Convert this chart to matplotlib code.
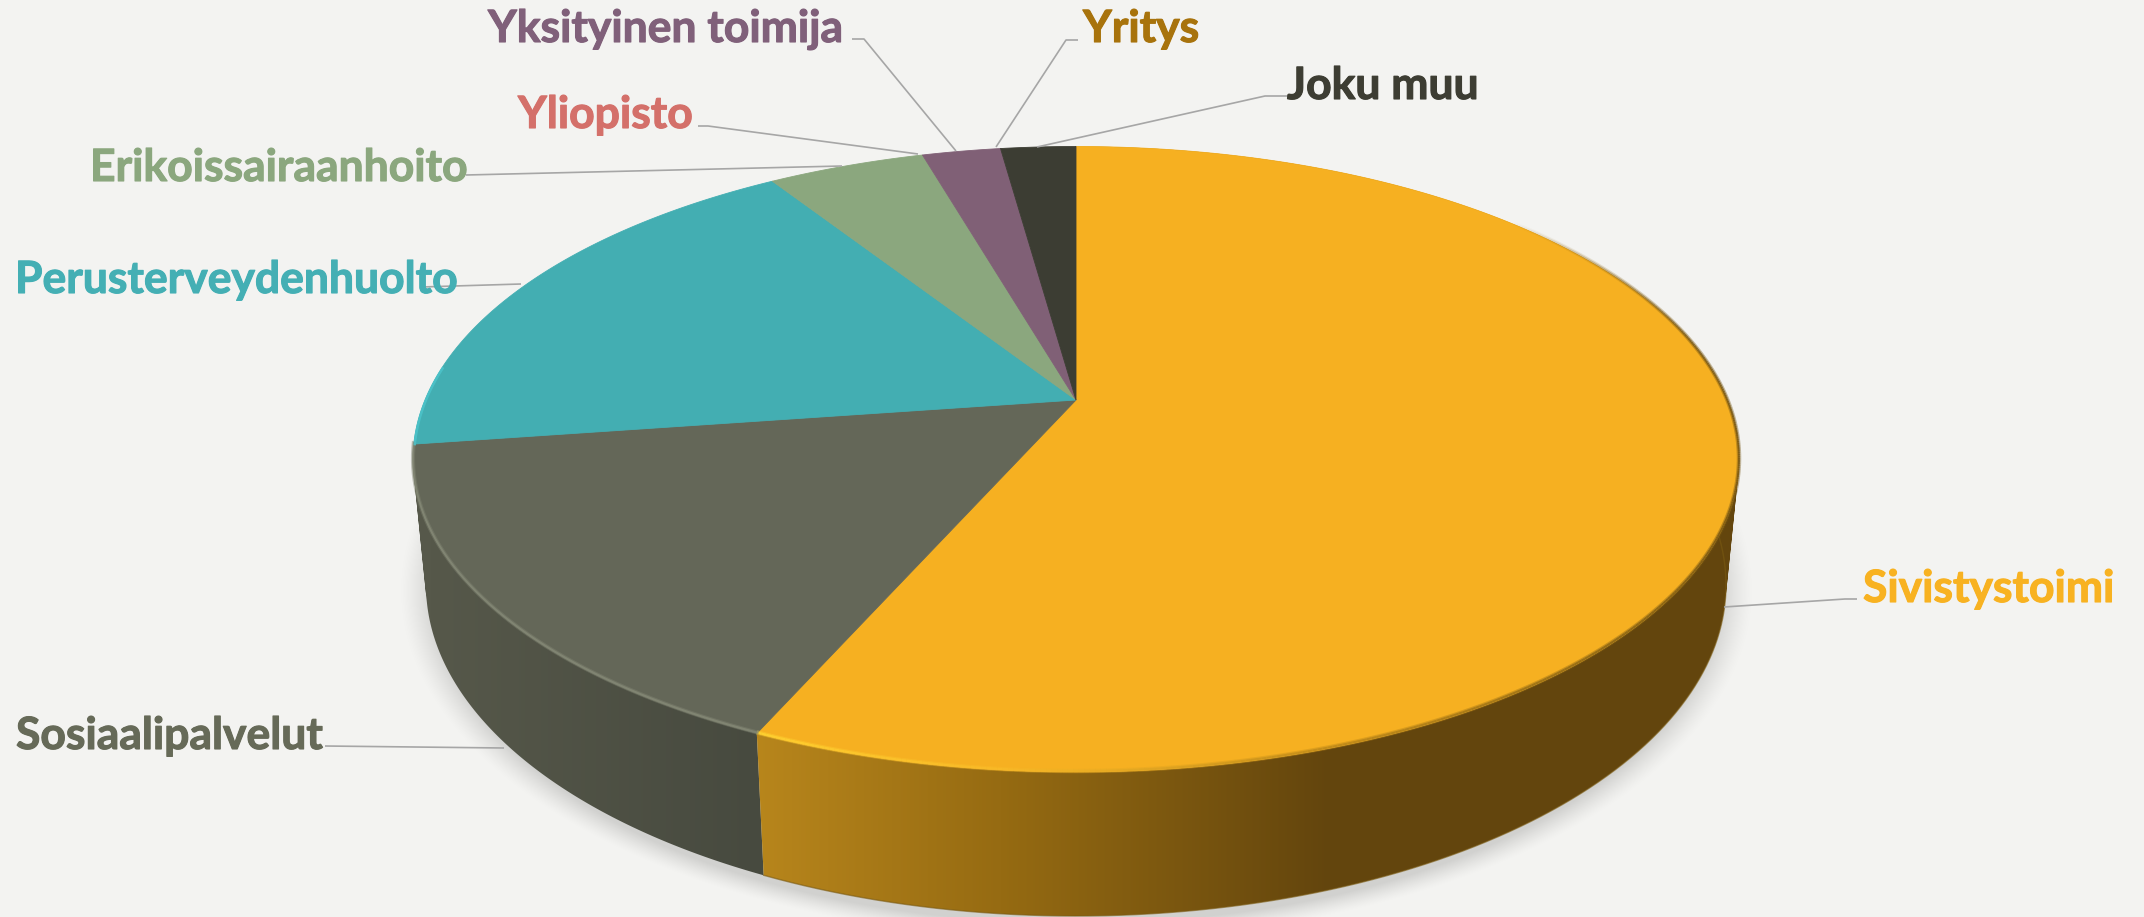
import numpy as np
import matplotlib
matplotlib.use("Agg")
import matplotlib.pyplot as plt
import matplotlib.patheffects as pe
from matplotlib.collections import LineCollection
from matplotlib.colors import to_rgb
from matplotlib.patches import PathPatch
from matplotlib.path import Path

# Data, clockwise from 12 o'clock
categories = ["Sivistystoimi", "Sosiaalipalvelut", "Perusterveydenhuolto",
              "Erikoissairaanhoito", "Yliopisto", "Yksityinen toimija",
              "Yritys", "Joku muu"]
values = [56.7, 16.1, 18.2, 4.6, 0.0, 2.3, 0.0, 2.2]
colors = ["#f6b021", "#646758", "#43aeb2", "#8ba77e",
          "#d4706a", "#806076", "#a8730c", "#3c3d33"]
label_colors = ["#f8b221", "#666a58", "#44afb4", "#8ba77e",
                "#d4706a", "#80607a", "#a8730c", "#3d3d33"]

# Where labels sit (left, baseline) and their leader lines, in pixels
label_x = [1863, 16, 15, 90, 518, 488, 1083, 1287]
label_y = [602, 749, 293, 181, 128, 42, 42, 99]
leaders = [
    [(1724, 607), (1845, 599), (1857, 599)],
    [(325, 746), (504, 748)],
    [(421, 287), (521, 284)],
    [(466, 175), (842, 166)],
    [(698, 126), (708, 126), (918, 154)],
    [(852, 39), (864, 39), (956, 151)],
    [(1078, 40), (1066, 40), (996, 147)],
    [(1287, 96), (1265, 96), (1037, 147)],
]

BG = "#f3f3f1"
W, H = 2144, 917

fig = plt.figure(figsize=(W / 100, H / 100), dpi=100, facecolor=BG)
ax = fig.add_axes([0, 0, 1, 1])
ax.set_xlim(0, W)
ax.set_ylim(H, 0)
ax.axis("off")


def disc(apex_y, back_y, front_y, rx, cx=1076):
    # perspective circle: the pie centre is not the ellipse centre
    back = apex_y - back_y
    front = front_y - apex_y
    k = -(front - back) / (front + back)
    s = front * (1 + k)
    r = rx * np.sqrt(1 - k ** 2)

    def project(t):
        px, py = np.sin(t), -np.cos(t)
        d = 1 + k * py
        return cx + r * px / d, apex_y + s * py / d

    return project


top = disc(400, 146.5, 772, 663)
bottom = disc(523, 254, 916, 650)

# Soft shadow under the pie
yy, xx = np.mgrid[0:H, 0:W]
rho = np.sqrt(((xx - 1076) / 676.0) ** 2 + ((yy - 590) / 350.0) ** 2)
alpha = np.clip((1.0 - rho) / 0.05, 0, 1) ** 1.3 * 0.85
shadow = np.zeros((H, W, 4))
shadow[..., :3] = to_rgb("#cbcbc9")
shadow[..., 3] = alpha
ax.imshow(shadow, extent=(0, W, H, 0), zorder=1, aspect="auto")

ends = np.cumsum(values) / np.sum(values) * 2 * np.pi
starts = np.r_[0, ends[:-1]]

# Side walls, gradient runs left to right
wall_stops = {
    0: ([755, 1000, 1330, 2144], ["#b8861c", "#966b12", "#63450d", "#63450d"]),
    1: ([0, 430, 760, 2144], ["#56584a", "#56584a", "#474a3f", "#474a3f"]),
}
for i in [1, 0]:
    t = np.linspace(starts[i], ends[i], 240)
    tx, ty = top(t)
    bx, by = bottom(t)
    # one quad per step, same winding, so the tangent part of the wall is filled too
    quads = []
    for j in range(len(t) - 1):
        q = np.array([[tx[j], ty[j]], [tx[j + 1], ty[j + 1]],
                      [bx[j + 1], by[j + 1]], [bx[j], by[j]], [tx[j], ty[j]]])
        area = np.sum(q[:-1, 0] * q[1:, 1] - q[1:, 0] * q[:-1, 1])
        quads.append(Path(q if area > 0 else q[::-1], closed=True))
    patch = PathPatch(Path.make_compound_path(*quads), fc="none", ec="none",
                      transform=ax.transData)
    ax.add_patch(patch)
    stops_x, stops_c = wall_stops[i]
    rgb = np.array([to_rgb(c) for c in stops_c])
    grad = np.stack([np.interp(np.arange(W), stops_x, rgb[:, j]) for j in range(3)], axis=-1)
    im = ax.imshow(grad[None, :, :], extent=(0, W, H, 0), zorder=2, aspect="auto")
    im.set_clip_path(patch)
ax.set_xlim(0, W)
ax.set_ylim(H, 0)

# Thin dark edge along the foot of the orange wall, under the top face
t = np.linspace(starts[0] + 0.6, ends[0], 300)
x, y = bottom(t)
ax.plot(x, y, color="#7a5a12", lw=1.0, alpha=0.6, zorder=2.5)

# Top faces
for i in range(len(values)):
    if values[i] == 0:
        continue
    t = np.linspace(starts[i], ends[i], 240)
    x, y = top(t)
    ax.fill(np.r_[1076, x], np.r_[400, y], color=colors[i], lw=0.6, zorder=3)

# Bevel on the rim
rim_x = [0, 752, 800, 1000, 1350, 1600, 1760]
rim_r = np.array([to_rgb(c) for c in
                  ["#ffd733", "#ffd733", "#ffcf30", "#f9bb28", "#b98518", "#8a6414", "#6e5012"]])
t = np.linspace(starts[0] + 0.85, ends[0], 400)
x, y = top(t)
pts = np.c_[x, y - 1.0].reshape(-1, 1, 2)
segs = np.concatenate([pts[:-1], pts[1:]], axis=1)
seg_c = np.stack([np.interp(x[:-1], rim_x, rim_r[:, j]) for j in range(3)], axis=-1)
fade = np.clip((t[:-1] - t[0]) / 0.5, 0, 1)
for width, a in [(3.2, 0.4), (1.5, 0.8)]:
    rgba = np.c_[seg_c, fade * a]
    ax.add_collection(LineCollection(segs, colors=rgba, linewidths=width, zorder=4))

t = np.linspace(starts[1], ends[1], 200)
x, y = top(t)
ax.plot(x, y - 1.0, color="#7f8371", lw=3.0, alpha=0.45, zorder=4)
ax.plot(x, y - 1.0, color="#858976", lw=1.4, alpha=0.8, zorder=4)

t = np.linspace(starts[2], starts[2] + 0.25, 60)
x, y = top(t)
ax.plot(x + 1, y, color="#4cc5cc", lw=1.8, alpha=0.8, zorder=4)

# Leader lines and labels
for i, name in enumerate(categories):
    lx, ly = zip(*leaders[i])
    ax.plot(lx, ly, color="#a6a6a6", lw=1.2, zorder=5, solid_capstyle="butt")
    ax.text(label_x[i], label_y[i], name, color=label_colors[i], fontsize=32,
            family="Lato", fontweight="bold", ha="left", va="baseline", zorder=6,
            path_effects=[pe.withStroke(linewidth=0.8, foreground=label_colors[i])])

fig.savefig("out.png", dpi=100, facecolor=BG)
